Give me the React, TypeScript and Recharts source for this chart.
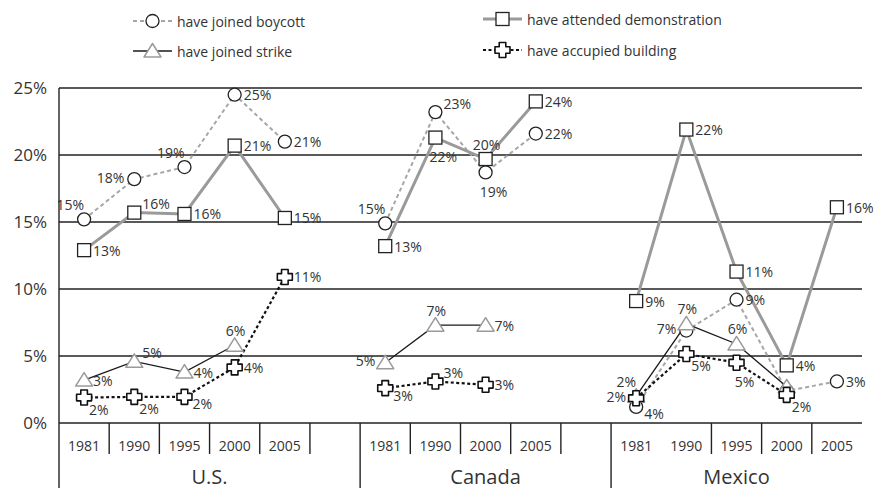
import React from 'react';
import { ComposedChart, Line, XAxis, YAxis, CartesianGrid } from 'recharts';

const COUNTRIES = ['U.S.', 'Canada', 'Mexico'];
const YEARS_US = ['1981', '1990', '1995', '2000', '2005'];
const YEARS_CA = ['1981', '1990', '2000', '2005'];
const YEARS_MX = ['1981', '1990', '1995', '2000', '2005'];
const Y_TICKS = [0, 5, 10, 15, 20, 25];

// have joined boycott
const boycottUS = [15.2, 18.2, 19.1, 24.5, 21.0];
const boycottCA = [14.9, 23.2, 18.7, 21.6];
const boycottMX = [1.2, 6.9, 9.2, 2.4, 3.1];
const boycottLblUS = [15, 18, 19, 25, 21];
const boycottLblCA = [15, 23, 19, 22];
const boycottLblMX = [4, 7, 9, null, 3];

// have attended demonstration
const demoUS = [12.9, 15.7, 15.6, 20.7, 15.3];
const demoCA = [13.2, 21.3, 19.7, 24.0];
const demoMX = [9.1, 21.9, 11.3, 4.3, 16.1];
const demoLblUS = [13, 16, 16, 21, 15];
const demoLblCA = [13, 22, 20, 24];
const demoLblMX = [9, 22, 11, 4, 16];

// have joined strike
const strikeUS = [3.2, 4.6, 3.8, 5.8, null];
const strikeCA = [4.5, 7.3, 7.3, null];
const strikeMX = [2.0, 7.4, 5.9, 2.7, null];
const strikeLblUS = [3, 5, 4, 6, null];
const strikeLblCA = [5, 7, 7, null];
const strikeLblMX = [2, 7, 6, null, null];

// have accupied building
const occUS = [1.9, 1.95, 1.95, 4.15, 10.9];
const occCA = [2.6, 3.1, 2.85, null];
const occMX = [1.85, 5.15, 4.5, 2.1, null];
const occLblUS = [2, 2, 2, 4, 11];
const occLblCA = [3, 3, 3, null];
const occLblMX = [2, 5, 5, 2, null];

// label placement around each marker (US, CA, MX points in order)
const LABEL_POS: Record<string, string[]> = {
  boycott: ['tl', 'l', 'tl', 'r', 'r', 'tl', 'tr', 'b', 'r', 'rl', 'l', 'r', 'r', 'r'],
  demo: ['r', 'tr', 'r', 'r', 'r', 'r', 'b', 't', 'r', 'r', 'r', 'r', 'r', 'r'],
  strike: ['r', 'tr', 'r', 't', 'r', 'l', 't', 'r', 'r', 'tl', 't', 't', 'r', 'r'],
  occ: ['br', 'br', 'rl', 'r', 'r', 'rl', 'tr', 'r', 'r', 'l', 'br', 'b', 'br', 'r'],
};

const OFFSETS: Record<string, { dx: number; dy: number; anchor: 'start' | 'end' | 'middle' }> = {
  r: { dx: 9, dy: 0, anchor: 'start' },
  rl: { dx: 8, dy: 7, anchor: 'start' },
  br: { dx: 5, dy: 12, anchor: 'start' },
  tr: { dx: 8, dy: -9, anchor: 'start' },
  l: { dx: -10, dy: -2, anchor: 'end' },
  tl: { dx: 0, dy: -15, anchor: 'end' },
  t: { dx: 1, dy: -15, anchor: 'middle' },
  b: { dx: 8, dy: 19, anchor: 'middle' },
};

const W = 876;
const H = 488;
const LEFT = 59;
const RIGHT = 14;
const TOP = 88;
const X_AXIS_H = 65;
const BOTTOM = H - X_AXIS_H;
const FONT = '"Open Sans", sans-serif';
const TEXT = '#333';
const RULE = '#222';

const groups = [
  { country: COUNTRIES[0], years: YEARS_US, boycott: boycottUS, boycottLbl: boycottLblUS, demo: demoUS, demoLbl: demoLblUS, strike: strikeUS, strikeLbl: strikeLblUS, occ: occUS, occLbl: occLblUS, spacer: true },
  { country: COUNTRIES[1], years: YEARS_CA, boycott: boycottCA, boycottLbl: boycottLblCA, demo: demoCA, demoLbl: demoLblCA, strike: strikeCA, strikeLbl: strikeLblCA, occ: occCA, occLbl: occLblCA, spacer: true },
  { country: COUNTRIES[2], years: YEARS_MX, boycott: boycottMX, boycottLbl: boycottLblMX, demo: demoMX, demoLbl: demoLblMX, strike: strikeMX, strikeLbl: strikeLblMX, occ: occMX, occLbl: occLblMX, spacer: false },
];

type Row = {
  id: string; year: string; pt: number; groupStart: boolean; groupSize: number;
  country: string; divider: boolean;
  [k: string]: any;
};

const rows: Row[] = [];
let pt = 0;
groups.forEach((g) => {
  const size = g.years.length + (g.spacer ? 1 : 0);
  g.years.forEach((yr, i) => {
    rows.push({
      id: `${g.country}-${yr}`,
      year: yr,
      pt: pt++,
      groupStart: i === 0,
      groupSize: size,
      country: g.country,
      // the Mexico box has no rule between 1981 and 1990
      divider: !(g.country === 'Mexico' && yr === '1990'),
      boycott: g.boycott[i], boycottLbl: g.boycottLbl[i],
      demo: g.demo[i], demoLbl: g.demoLbl[i],
      strike: g.strike[i], strikeLbl: g.strikeLbl[i],
      occ: g.occ[i], occLbl: g.occLbl[i],
    });
  });
  if (g.spacer) {
    rows.push({ id: `${g.country}-gap`, year: '', pt: -1, groupStart: false, groupSize: 0, country: g.country, divider: true });
  }
});

const BAND = (W - LEFT - RIGHT) / rows.length;

function Marker({ kind, cx, cy }: { kind: string; cx: number; cy: number }) {
  if (kind === 'boycott') {
    return <circle cx={cx} cy={cy} r={6.5} fill="#fff" stroke="#222" strokeWidth={1.3} />;
  }
  if (kind === 'demo') {
    return <rect x={cx - 6.5} y={cy - 6.5} width={13} height={13} fill="#fff" stroke="#222" strokeWidth={1.3} />;
  }
  if (kind === 'strike') {
    return (
      <path d={`M${cx},${cy - 7.5} L${cx + 8.5},${cy + 6} L${cx - 8.5},${cy + 6} Z`}
        fill="#fff" stroke="#9a9a9a" strokeWidth={1.5} strokeLinejoin="round" />
    );
  }
  const a = 3.3, s = 7.5;
  const d = `M${cx - a},${cy - s} H${cx + a} V${cy - a} H${cx + s} V${cy + a} H${cx + a} V${cy + s} H${cx - a} V${cy + a} H${cx - s} V${cy - a} H${cx - a} Z`;
  return <path d={d} fill="#fff" stroke="#111" strokeWidth={1.6} strokeLinejoin="round" />;
}

const makeDot = (kind: string) => (props: any) => {
  const { cx, cy, index, payload } = props;
  const key = `${kind}-${index}`;
  if (cx == null || cy == null || payload?.[kind] == null) return <g key={key} />;
  const lbl = payload[`${kind}Lbl`];
  const o = OFFSETS[LABEL_POS[kind][payload.pt]] ?? OFFSETS.r;
  return (
    <g key={key}>
      <Marker kind={kind} cx={cx} cy={cy} />
      {lbl != null && (
        <text x={cx + o.dx} y={cy + o.dy} textAnchor={o.anchor} dominantBaseline="central"
          fontSize={14} fill={TEXT} fontFamily={FONT}>
          {`${lbl}%`}
        </text>
      )}
    </g>
  );
};

function CategoryTick(props: any) {
  const { x, payload } = props;
  const row = rows[payload.index];
  if (!row) return null;
  const left = x - BAND / 2;
  return (
    <g>
      {row.groupStart ? (
        <line x1={left} x2={left} y1={payload.index === 0 ? TOP : BOTTOM} y2={H} stroke={RULE} strokeWidth={1.4} />
      ) : row.divider ? (
        <line x1={left} x2={left} y1={BOTTOM} y2={BOTTOM + 31} stroke={RULE} strokeWidth={1.4} />
      ) : null}
      {row.year && (
        <text x={x} y={445} textAnchor="middle" dominantBaseline="central" fontSize={14} fill={TEXT} fontFamily={FONT}>
          {row.year}
        </text>
      )}
      {row.groupStart && (
        <text x={left + (BAND * row.groupSize) / 2} y={476} textAnchor="middle" dominantBaseline="central"
          fontSize={20} fill={TEXT} fontFamily={FONT}>
          {row.country}
        </text>
      )}
    </g>
  );
}

function Legend() {
  const items = [
    { kind: 'boycott', label: 'have joined boycott', x: 133, y: 21, stroke: '#a6a6a6', w: 2, dash: '4 3' },
    { kind: 'demo', label: 'have attended demonstration', x: 483, y: 19, stroke: '#9a9a9a', w: 3, dash: undefined },
    { kind: 'strike', label: 'have joined strike', x: 133, y: 51, stroke: '#1a1a1a', w: 1.3, dash: undefined },
    { kind: 'occ', label: 'have accupied building', x: 483, y: 50, stroke: '#111', w: 2.2, dash: '3 2.5' },
  ];
  return (
    <svg width={W} height={70} style={{ position: 'absolute', left: 0, top: 0 }}>
      {items.map((it) => (
        <g key={it.kind}>
          <line x1={it.x} x2={it.x + 39} y1={it.y} y2={it.y} stroke={it.stroke} strokeWidth={it.w} strokeDasharray={it.dash} />
          <Marker kind={it.kind} cx={it.x + 19.5} cy={it.y} />
          <text x={it.x + 44} y={it.y} dominantBaseline="central" fontSize={14} fill={TEXT} fontFamily={FONT}>
            {it.label}
          </text>
        </g>
      ))}
    </svg>
  );
}

export default function App() {
  return (
    <div style={{ position: 'absolute', left: 0, top: 0, width: W, height: H, background: '#fff' }}>
      <ComposedChart width={W} height={H} data={rows} margin={{ top: TOP, right: RIGHT, bottom: 0, left: 0 }}>
        <CartesianGrid vertical={false} stroke={RULE} strokeWidth={1.5} />
        <XAxis
          dataKey="id"
          type="category"
          scale="band"
          interval={0}
          height={X_AXIS_H}
          axisLine={false}
          tickLine={false}
          tick={<CategoryTick />}
        />
        <YAxis
          width={LEFT}
          domain={[0, 25]}
          ticks={Y_TICKS}
          axisLine={false}
          tickLine={false}
          tickSize={6}
          tickMargin={6}
          tickFormatter={(v: number) => `${v}%`}
          tick={{ fontSize: 17, fill: TEXT, fontFamily: FONT }}
        />
        <Line type="linear" dataKey="boycott" stroke="#a6a6a6" strokeWidth={2} strokeDasharray="4 3"
          dot={makeDot('boycott')} activeDot={false} isAnimationActive={false} />
        <Line type="linear" dataKey="demo" stroke="#9a9a9a" strokeWidth={3}
          dot={makeDot('demo')} activeDot={false} isAnimationActive={false} />
        <Line type="linear" dataKey="strike" stroke="#1a1a1a" strokeWidth={1.3}
          dot={makeDot('strike')} activeDot={false} isAnimationActive={false} />
        <Line type="linear" dataKey="occ" stroke="#111" strokeWidth={2.2} strokeDasharray="3 2.5"
          dot={makeDot('occ')} activeDot={false} isAnimationActive={false} />
      </ComposedChart>
      <Legend />
    </div>
  );
}
